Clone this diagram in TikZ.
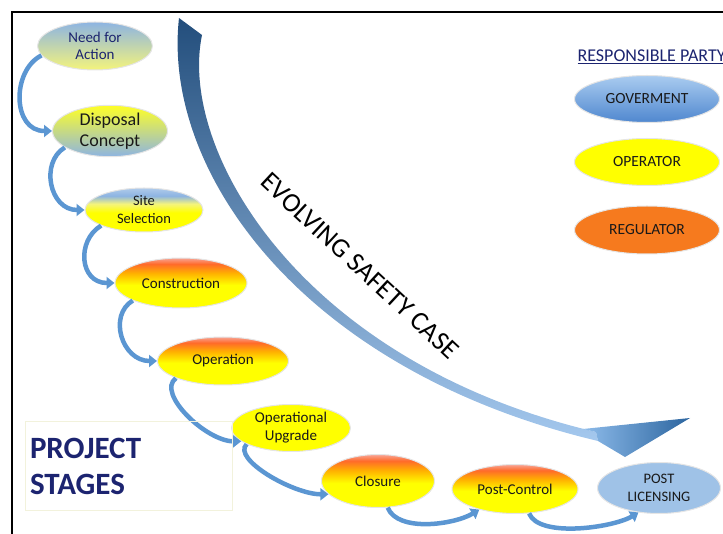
\documentclass[tikz,border=0pt]{standalone}
\usepackage{fontspec}
\setmainfont{Carlito}
\usetikzlibrary{shapes.geometric,arrows.meta}

\definecolor{stageyellow}{HTML}{FFFF00}
\definecolor{paleyellow}{HTML}{F4F47C}
\definecolor{stageorange}{HTML}{FFB000}
\definecolor{stagered}{HTML}{FF6A2A}
\definecolor{stagepink}{HTML}{F8A595}
\definecolor{stageblue}{HTML}{8DB4E2}
\definecolor{govtop}{HTML}{AACCF0}
\definecolor{govbottom}{HTML}{4F87CF}
\definecolor{regorange}{HTML}{F67A1E}
\definecolor{postblue}{HTML}{9FC2E7}
\definecolor{linkblue}{HTML}{5B96D2}
\definecolor{bandtop}{HTML}{234E7C}
\definecolor{bandbottom}{HTML}{A4C8EE}
\definecolor{headleft}{HTML}{8DBBEA}
\definecolor{headright}{HTML}{2C659F}
\definecolor{navy}{HTML}{1C2470}
\definecolor{boxedge}{HTML}{F2F2DC}

% red-orange top fading into yellow
\pgfdeclareverticalshading{warmstage}{100bp}{color(0bp)=(stageyellow); color(25bp)=(stageyellow); color(48bp)=(stageyellow); color(60bp)=(stageorange); color(69bp)=(stagered); color(75bp)=(stagepink); color(100bp)=(stagepink)}
% blue top, yellow bottom
\pgfdeclareverticalshading{sitestage}{100bp}{color(0bp)=(stageyellow); color(25bp)=(stageyellow); color(47bp)=(stageyellow); color(57bp)=(paleyellow); color(66bp)=(stageblue); color(75bp)=(stageblue!70); color(100bp)=(stageblue!70)}

\begin{document}
\begin{tikzpicture}[x=1pt,y=-1pt,
        stage/.style={ellipse, inner sep=0pt, draw=black!10, line width=1pt, align=center, text=black!90, font=\fontsize{15}{18}\selectfont},
        warm/.style={stage, shading=warmstage},
        party/.style={stage, minimum width=145pt, minimum height=47pt, font=\fontsize{15.5}{18}\selectfont},
        link/.style={draw=linkblue, line width=4.5pt, -{Triangle[width=12pt,length=8pt]}}]
        \useasboundingbox (0,0) rectangle (723,534);

        % frame
        \draw [line width=1.6pt] (12,534)--(12,12)--(723,12);

        % safety case arrow
        \shade [top color=bandtop, bottom color=bandbottom] (179,18)--(202,35) .. controls (178,150) and (300,362) .. (596,432)--(598,441) .. controls (300,370) and (162,170) .. (179,18)--cycle;
        \shade [left color=headleft, right color=headright] (583,429)--(690,418)--(625,457)--(598,441)--(596,432)--cycle;
        \node [rotate=-43, font=\fontsize{27}{30}\selectfont] (case) at (360,266) {EVOLVING SAFETY CASE};

        % project stages
        \node [stage, top color=stageblue, bottom color=paleyellow, minimum width=115pt, minimum height=48pt, text=navy, font=\fontsize{15}{17}\selectfont] (need) at (95,46) {Need for\\Action};
        \node [stage, top color=stageyellow!85, bottom color=stageblue, minimum width=115pt, minimum height=49pt, font=\fontsize{18}{21}\selectfont] (disposal) at (110,131) {Disposal\\Concept};
        \node [stage, shading=sitestage, minimum width=118pt, minimum height=44pt, font=\fontsize{14.5}{18}\selectfont] (site) at (144,210) {Site\\Selection};
        \node [warm, minimum width=132pt, minimum height=50pt] (construction) at (181,283) {Construction};
        \node [warm, minimum width=131pt, minimum height=48pt] (operation) at (223,361) {Operation};
        \node [stage, fill=stageyellow, minimum width=119pt, minimum height=47pt] (upgrade) at (291,428) {Operational\\Upgrade};
        \node [warm, minimum width=113pt, minimum height=53pt] (closure) at (378,481) {Closure};
        \node [warm, minimum width=126pt, minimum height=49pt] (postctrl) at (515,489) {Post-Control};
        \node [stage, fill=postblue, minimum width=123pt, minimum height=51pt, font=\fontsize{14.5}{18}\selectfont] (licensing) at (659,488) {POST\\LICENSING};

        \draw [link] (need.190) .. controls +(-30,15) and +(-40,0) .. (disposal.west);
        \draw [link] (disposal.200) .. controls +(-25,15) and +(-35,0) .. (site.west);
        \draw [link] (site.200) .. controls +(-25,15) and +(-35,0) .. (construction.west);
        \draw [link] (construction.200) .. controls +(-25,15) and +(-35,0) .. (operation.west);
        \draw [link] (operation.200) .. controls +(-20,15) and +(-35,0) .. (upgrade.195);
        \draw [link] (upgrade.200) .. controls +(-15,15) and +(-35,0) .. (closure.195);
        \draw [link] (closure.290) .. controls +(10,25) and +(-25,15) .. (postctrl.210);
        \draw [link] (postctrl.300) .. controls +(10,25) and +(-25,15) .. (licensing.230);

        \node [draw=boxedge, line width=1pt, minimum width=207pt, minimum height=88pt, text width=197pt, align=left, text=navy, font=\fontsize{31}{36}\selectfont\bfseries] (stages) at (128.5,466) {PROJECT\\STAGES};

        % responsible party
        \node [anchor=west, text=navy, font=\fontsize{18}{20}\selectfont] (partytitle) at (574,57) {\underline{RESPONSIBLE PARTY}};
        \node [party, top color=govtop, bottom color=govbottom] (gov) at (647,99) {GOVERMENT};
        \node [party, fill=stageyellow] (operator) at (647,162) {OPERATOR};
        \node [party, fill=regorange, minimum height=48pt] (regulator) at (647,230) {REGULATOR};
\end{tikzpicture}
\end{document}
